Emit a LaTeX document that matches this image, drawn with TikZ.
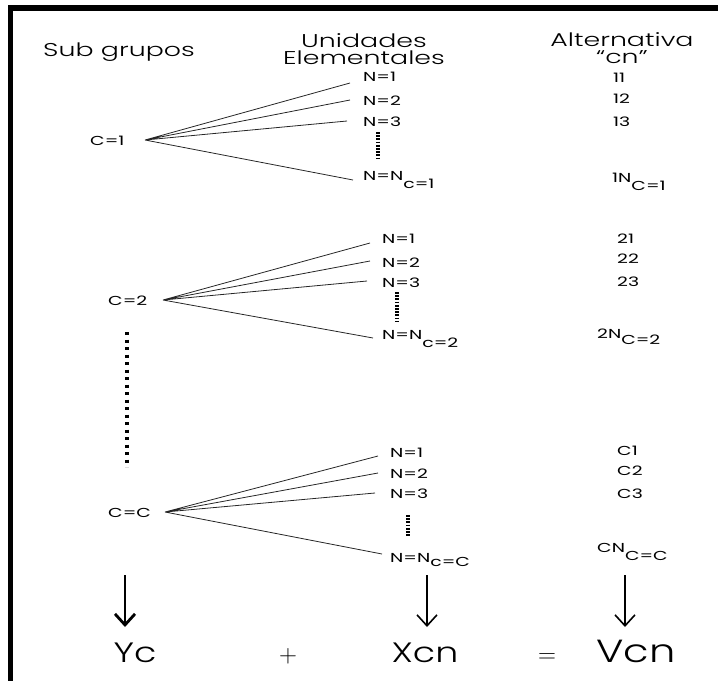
\documentclass[tikz,border=0pt]{standalone}
\usepackage{fontspec}
\IfFontExistsTF{Poppins Light}{%
  \setmainfont[FakeStretch=1.45]{Poppins Light}%
  \newfontfamily\botfont[FakeStretch=1.3]{Poppins Light}}{%
  \setmainfont[FakeStretch=1.45]{Poppins}%
  \newfontfamily\botfont[FakeStretch=1.3]{Poppins}}
\newfontfamily\labfont[FakeStretch=1.45]{Poppins}
\usetikzlibrary{arrows.meta,calc}
\begin{document}
\begin{tikzpicture}[x=1pt,y=-1pt,
  hdr/.style={font=\fontsize{18.5}{17}\selectfont, align=center, inner sep=0pt},
  lab/.style={font=\labfont\fontsize{13}{15}\selectfont, anchor=base west, inner sep=0pt},
  fan/.style={line width=0.8pt, black!85},
  smalldots/.style={line width=3.4pt, dash pattern=on 1.8pt off 1.4pt},
  bigdots/.style={line width=3.4pt, dash pattern=on 3.2pt off 4.3pt},
  arr/.style={line width=1.6pt, -{Straight Barb[length=11pt,width=20pt]}},
  bigarr/.style={line width=2.8pt, -{Straight Barb[length=11pt,width=20pt]}},
  bot/.style={font=\botfont\fontsize{28}{30}\selectfont, anchor=base, inner sep=0pt},
  op/.style={font=\fontsize{40}{42}\selectfont, anchor=base, inner sep=0pt}]
\useasboundingbox (0,0) rectangle (718,681);
% frame
\fill[black] (8,5) rectangle (718,11);
\fill[black] (8,5) rectangle (13,681);
% headers
\node[hdr, anchor=base] (hsg) at (119,56) {Sub grupos};
\node[hdr, anchor=base] (hun) at (364,64) {Unidades\\Elementales};
\node[hdr, anchor=base] (hal) at (622,63) {Alternativa\\“cn”};
% block 1
\node[lab] (c1) at (90,145) {C=1};
\coordinate (o1) at (145,140);
\node[lab] (n11) at (363,81) {N=1};
\node[lab] (n12) at (363,105) {N=2};
\node[lab] (n13) at (363,126) {N=3};
\node[lab] (n1n) at (363,180) {N=N\raisebox{-8pt}{c=1}};
\coordinate (e11) at (350,83);
\coordinate (e12) at (350,100);
\coordinate (e13) at (347,121);
\coordinate (e1n) at (353,180);
\draw[fan] (o1) -- (e11) (o1) -- (e12) (o1) -- (e13) (o1) -- (e1n);
\coordinate (d1a) at (378,132);
\coordinate (d1b) at (378,160);
\draw[smalldots] (d1a) -- (d1b);
\node[lab] (a11) at (613,82) {11};
\node[lab] (a12) at (613,103) {12};
\node[lab] (a13) at (613,126) {13};
\node[lab] (a1n) at (612,190) {\raisebox{8pt}{1N}C=1};
% block 2
\node[lab] (c2) at (108,305) {C=2};
\coordinate (o2) at (163,300);
\node[lab] (n21) at (382,243) {N=1};
\node[lab] (n22) at (382,267) {N=2};
\node[lab] (n23) at (382,287) {N=3};
\node[lab] (n2n) at (382,339) {N=N\raisebox{-8pt}{c=2}};
\coordinate (e21) at (370,243);
\coordinate (e22) at (370,261);
\coordinate (e23) at (367,281);
\coordinate (e2n) at (373,338);
\draw[fan] (o2) -- (e21) (o2) -- (e22) (o2) -- (e23) (o2) -- (e2n);
\coordinate (d2a) at (397,292);
\coordinate (d2b) at (397,322);
\draw[smalldots] (d2a) -- (d2b);
\node[lab] (a21) at (617,243) {21};
\node[lab] (a22) at (617,263) {22};
\node[lab] (a23) at (617,286) {23};
\node[lab] (a2n) at (597,344) {\raisebox{6pt}{2N}C=2};
% long dotted line
\coordinate (va) at (127,332);
\coordinate (vb) at (127,467);
\draw[bigdots] (va) -- (vb);
% block C
\node[lab] (cc) at (108,517) {C=C};
\coordinate (oc) at (165,512);
\node[lab] (nc1) at (390,457) {N=1};
\node[lab] (nc2) at (390,478) {N=2};
\node[lab] (nc3) at (390,498) {N=3};
\node[lab] (ncn) at (390,562) {N=N\raisebox{-4pt}{c=C}};
\coordinate (ec1) at (378,456);
\coordinate (ec2) at (378,473);
\coordinate (ec3) at (375,493);
\coordinate (ecn) at (382,554);
\draw[fan] (oc) -- (ec1) (oc) -- (ec2) (oc) -- (ec3) (oc) -- (ecn);
\coordinate (dca) at (408,515);
\coordinate (dcb) at (408,537);
\draw[smalldots] (dca) -- (dcb);
\node[lab] (ac1) at (617,455) {C1};
\node[lab] (ac2) at (617,475) {C2};
\node[lab] (ac3) at (617,498) {C3};
\node[lab] (acn) at (597,560) {\raisebox{8pt}{CN}C=C};
% bottom
\node[bot] (yc) at (135,662) {Yc};
\node[op] (plus) at (288,662) {$+$};
\node[bot] (xcn) at (425,662) {Xcn};
\node[op] (eq) at (547,662) {$=$};
\node[bot, font=\botfont\fontsize{32}{34}\selectfont] (vcn) at (636,662) {Vcn};
\coordinate (t1) at (125,575);
\coordinate (b1) at (125,627);
\coordinate (t2) at (427,575);
\coordinate (b2) at (427,627);
\coordinate (t3) at (625,575);
\coordinate (b3) at (625,627);
\draw[bigarr] (t1) -- (b1);
\draw[arr] (t2) -- (b2);
\draw[arr] (t3) -- (b3);
\end{tikzpicture}
\end{document}
